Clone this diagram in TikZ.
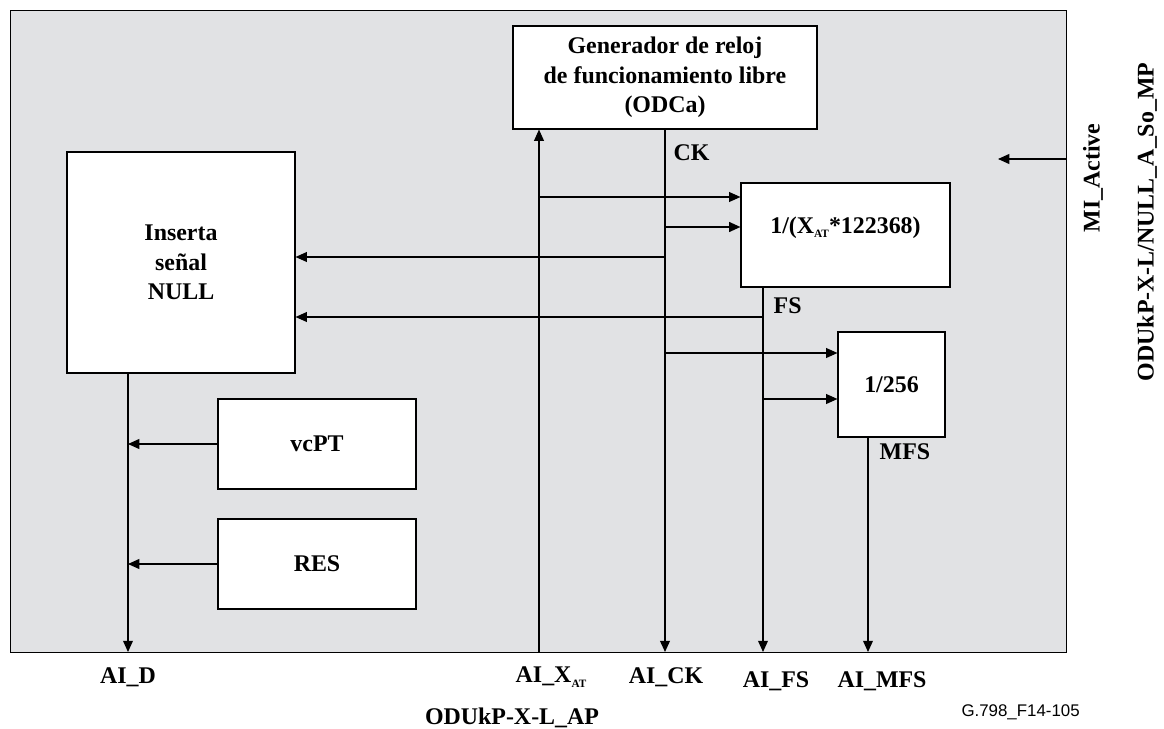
\documentclass[tikz,border=0pt]{standalone}
\usepackage{fontspec}
\setmainfont{Liberation Serif}
\newfontfamily\figsans{Liberation Sans}
\usetikzlibrary{arrows.meta}
\definecolor{framegray}{RGB}{225,226,228}
\newcommand{\subAT}{\raisebox{-0.4ex}{\fontsize{8}{8}\selectfont AT}}
\tikzset{
  blk/.style={draw, fill=white, line width=0.8pt, inner sep=0pt, align=center,
    font=\fontsize{17}{21}\selectfont\bfseries},
  lbl/.style={font=\fontsize{17}{21}\selectfont\bfseries, inner sep=1pt},
  sig/.style={line width=0.8pt, -{Triangle[length=8pt,width=7pt]}},
}

\begin{document}
\begin{tikzpicture}[x=0.025cm, y=-0.025cm]
\useasboundingbox (0,0) rectangle (1164,729);

\draw[fill=framegray, line width=0.6pt] (10,10) rectangle (1066,652);

% blocks
\node[blk, minimum width=7.6cm, minimum height=2.575cm] (gen) at (665,77.5)
  {Generador de reloj\\de funcionamiento libre\\(ODCa)};
\node[blk, minimum width=5.225cm, minimum height=2.6cm, text depth=0.5cm] (div) at (845.5,235)
  {1/(X\subAT*122368)};
\node[blk, minimum width=2.675cm, minimum height=2.625cm] (mdiv) at (891.5,384.5) {1/256};
\node[blk, minimum width=5.7cm, minimum height=5.525cm] (ins) at (181,262.5)
  {Inserta\\se\~nal\\NULL};
\node[blk, minimum width=4.95cm, minimum height=2.25cm] (vcpt) at (317,444) {vcPT};
\node[blk, minimum width=4.95cm, minimum height=2.25cm] (res) at (317,564) {RES};

% access points on the frame
\coordinate (aiD) at (128,652);
\coordinate (aiX) at (539,652);
\coordinate (aiCK) at (665,652);
\coordinate (aiFS) at (763,652);
\coordinate (aiMFS) at (868,652);
\coordinate (miIn) at (1066,159);
\coordinate (miTip) at (998,159);

% branch rows
\coordinate (rowA) at (0,197);
\coordinate (rowB) at (0,227);
\coordinate (rowC) at (0,257);
\coordinate (rowD) at (0,317);
\coordinate (rowE) at (0,353);
\coordinate (rowF) at (0,399);

\draw[sig] (ins.south -| aiD) -- (aiD);
\draw[sig] (vcpt.west) -- (vcpt.west -| aiD);
\draw[sig] (res.west) -- (res.west -| aiD);

\draw[sig] (aiX) -- (aiX |- gen.south);
\draw[sig] (aiX |- rowA) -- (div.west |- rowA);

\draw[sig, line width=1.2pt] (gen.south) -- (aiCK);
\draw[sig, line width=1.1pt] (aiCK |- rowB) -- (div.west |- rowB);
\draw[sig] (aiCK |- rowC) -- (ins.east |- rowC);
\draw[sig] (aiCK |- rowE) -- (mdiv.west |- rowE);

\draw[sig] (div.south -| aiFS) -- (aiFS);
\draw[sig] (aiFS |- rowD) -- (ins.east |- rowD);
\draw[sig] (aiFS |- rowF) -- (mdiv.west |- rowF);

\draw[sig] (mdiv.south -| aiMFS) -- (aiMFS);
\draw[sig] (miIn) -- (miTip);

% labels
\node[lbl, anchor=west] (ckLbl) at (672,153) {CK};
\node[lbl, anchor=west] (fsLbl) at (772,306) {FS};
\node[lbl, anchor=west] (mfsLbl) at (878,452) {MFS};

\node[lbl] (aiDLbl) at (128,677) {AI\_D};
\node[lbl] (aiXLbl) at (551,677) {AI\_X\subAT};
\node[lbl] (aiCKLbl) at (666,677) {AI\_CK};
\node[lbl] (aiFSLbl) at (776,681) {AI\_FS};
\node[lbl] (aiMFSLbl) at (882,681) {AI\_MFS};
\node[lbl] (apLbl) at (512,718) {ODUkP-X-L\_AP};
\node[font=\figsans\fontsize{12}{14}\selectfont, anchor=east, inner sep=0pt] (figId) at (1080,712) {G.798\_F14-105};

\node[lbl, rotate=90] (miLbl) at (1093,178) {MI\_Active};
\node[lbl, rotate=90] (mpLbl) at (1147,222) {ODUkP-X-L/NULL\_A\_So\_MP};
\end{tikzpicture}
\end{document}
